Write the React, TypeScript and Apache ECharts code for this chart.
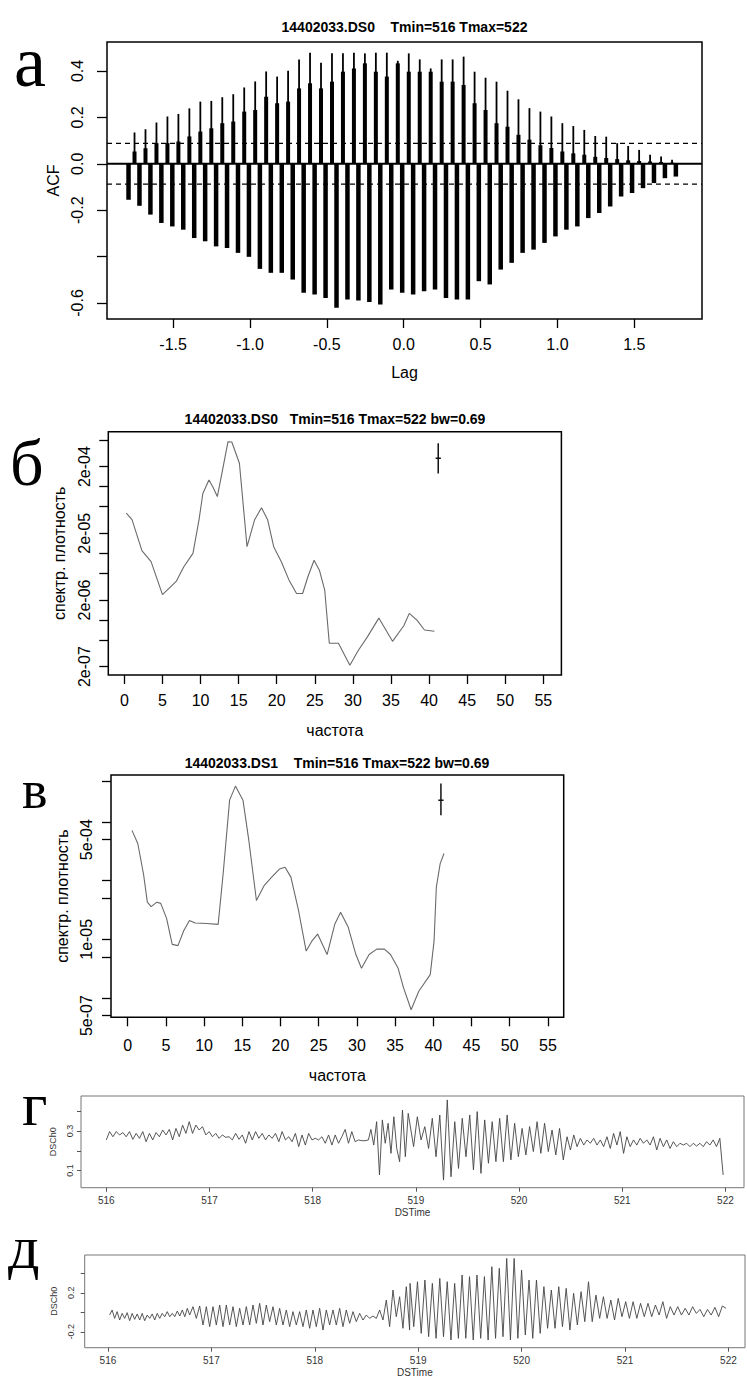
import React, { useEffect, useRef } from "react";
import * as echarts from "echarts";

// ---------- Panel а: cross-correlation (ACF) ----------
const acfPosLag0 = -1.751;
const acfPosStep = 0.07135;
const acfPosPeak = [0.135, 0.149, 0.178, 0.204, 0.215, 0.239, 0.268, 0.271, 0.287, 0.3, 0.329, 0.355, 0.398, 0.376, 0.401, 0.45, 0.479, 0.436, 0.476, 0.476, 0.479, 0.476, 0.479, 0.479, 0.444, 0.476, 0.45, 0.411, 0.45, 0.45, 0.462, 0.397, 0.371, 0.354, 0.315, 0.278, 0.24, 0.225, 0.204, 0.175, 0.163, 0.146, 0.12, 0.117, 0.089, 0.077, 0.06, 0.039, 0.031, 0.017];
const acfPosShoulder = [0.053, 0.067, 0.089, 0.089, 0.096, 0.118, 0.139, 0.153, 0.175, 0.182, 0.225, 0.232, 0.289, 0.261, 0.268, 0.325, 0.347, 0.325, 0.354, 0.397, 0.411, 0.433, 0.397, 0.376, 0.433, 0.397, 0.397, 0.397, 0.354, 0.354, 0.34, 0.261, 0.232, 0.175, 0.16, 0.125, 0.104, 0.08, 0.068, 0.053, 0.045, 0.039, 0.03, 0.025, 0.02, 0.015, 0.012, 0.01, 0.008, 0.005];
const acfNegLag0 = -1.79;
const acfNegStep = 0.0712;
const acfNeg = [-0.155, -0.181, -0.219, -0.255, -0.27, -0.284, -0.32, -0.334, -0.356, -0.363, -0.384, -0.401, -0.453, -0.47, -0.47, -0.499, -0.556, -0.563, -0.578, -0.621, -0.585, -0.589, -0.596, -0.606, -0.542, -0.556, -0.563, -0.549, -0.542, -0.578, -0.585, -0.585, -0.506, -0.52, -0.456, -0.427, -0.384, -0.37, -0.341, -0.313, -0.284, -0.27, -0.234, -0.212, -0.184, -0.141, -0.126, -0.105, -0.083, -0.062, -0.055];
const acfCI = 0.088;
const acfXTicks = [-1.5, -1.0, -0.5, 0, 0.5, 1.0, 1.5];
const acfYTicks = [-0.6, -0.4, -0.2, 0, 0.2, 0.4];
const acfYLabels = [-0.6, -0.2, 0, 0.2, 0.4];

// ---------- Panel б: spectrum DS0 ----------
const specB_f = [0.25, 1.0, 2.3, 3.5, 5.0, 6.8, 7.8, 9.0, 9.8, 10.3, 11.1, 11.6, 12.2, 12.8, 13.6, 14.1, 15.1, 16.1, 17.1, 18.0, 18.8, 19.6, 20.6, 21.6, 22.6, 23.4, 24.1, 24.9, 25.6, 26.3, 26.9, 28.1, 29.6, 30.7, 31.9, 33.4, 35.2, 36.7, 37.4, 38.4, 39.4, 40.7];
const specB_v = [4.0e-5, 3.2e-5, 1.1e-5, 7.5e-6, 2.4e-6, 3.8e-6, 6.3e-6, 1.0e-5, 3.2e-5, 7.9e-5, 1.26e-4, 1.0e-4, 7.1e-5, 1.58e-4, 4.72e-4, 4.68e-4, 2.24e-4, 1.26e-5, 3.2e-5, 4.84e-5, 3.2e-5, 1.26e-5, 7.5e-6, 4.0e-6, 2.5e-6, 2.5e-6, 4.5e-6, 7.9e-6, 5.6e-6, 2.8e-6, 4.5e-7, 4.5e-7, 2.1e-7, 3.5e-7, 5.6e-7, 1.07e-6, 4.8e-7, 8.3e-7, 1.26e-6, 1.0e-6, 7.1e-7, 6.8e-7];
const specB_ciF = 41.2;
const specB_ciV = [4.47e-4, 2.66e-4, 1.58e-4];
const specB_yTicks = [5e-4, 2e-4, 1e-4, 5e-5, 2e-5, 1e-5, 5e-6, 2e-6, 1e-6, 5e-7, 2e-7];
const specB_yLabels = [2e-4, 2e-5, 2e-6, 2e-7];

// ---------- Panel в: spectrum DS1 ----------
const specC_f = [0.56, 1.32, 2.07, 2.57, 3.07, 3.82, 4.32, 5.08, 5.83, 6.58, 7.33, 8.08, 8.83, 10.34, 11.84, 12.49, 13.34, 14.1, 15.09, 15.85, 16.85, 17.85, 18.85, 19.86, 20.6, 21.36, 22.36, 23.36, 24.1, 24.86, 26.1, 27.1, 27.87, 28.87, 29.87, 30.6, 31.6, 32.6, 33.6, 34.4, 35.4, 36.1, 37.1, 38.1, 39.6, 40.1, 40.4, 40.9, 41.4];
const specC_v = [7.2e-4, 4.3e-4, 1.3e-4, 4.3e-5, 3.6e-5, 4.3e-5, 4.1e-5, 2.3e-5, 8.2e-6, 7.8e-6, 1.4e-5, 2.1e-5, 1.9e-5, 1.86e-5, 1.8e-5, 1.3e-4, 2.36e-3, 4.1e-3, 2.36e-3, 4.9e-4, 4.6e-5, 8.2e-5, 1.15e-4, 1.58e-4, 1.7e-4, 1.15e-4, 3.1e-5, 6.3e-6, 9.3e-6, 1.23e-5, 5.5e-6, 1.8e-5, 2.9e-5, 1.6e-5, 5.5e-6, 3.2e-6, 5.5e-6, 6.8e-6, 6.8e-6, 5.5e-6, 3.2e-6, 1.5e-6, 6.3e-7, 1.3e-6, 2.5e-6, 9.3e-6, 7.8e-5, 1.95e-4, 2.9e-4];
const specC_ciF = 41.0;
const specC_ciV = [4.56e-3, 2.36e-3, 1.31e-3];
const specC_yTicks = [5e-3, 1e-3, 5e-4, 1e-4, 5e-5, 1e-5, 5e-6, 1e-6, 5e-7];
const specC_yLabels = [5e-4, 1e-5, 5e-7];
const specBandwidth = 0.69;
const freqTicks = [0, 5, 10, 15, 20, 25, 30, 35, 40, 45, 50, 55];

// ---------- Panel г: DSCh0 time series (segments sampled evenly between times) ----------
const gSegTimes = [[516.0, 518.54], [518.564, 518.926], [518.978, 520.465], [520.498, 521.978]];
const gValuesA = [0.255, 0.297, 0.271, 0.297, 0.28, 0.292, 0.271, 0.297, 0.258, 0.288, 0.263, 0.297, 0.246, 0.288, 0.255, 0.292, 0.271, 0.305, 0.28, 0.308, 0.255, 0.313, 0.271, 0.33, 0.288, 0.347, 0.288, 0.33, 0.305, 0.322, 0.28, 0.297, 0.271, 0.288, 0.263, 0.28, 0.268, 0.271, 0.255, 0.288, 0.258, 0.28, 0.238, 0.297, 0.255, 0.297, 0.263, 0.288, 0.255, 0.28, 0.263, 0.288, 0.246, 0.297, 0.255, 0.271, 0.246, 0.288, 0.221, 0.28, 0.229, 0.288, 0.255, 0.263, 0.255, 0.271, 0.238, 0.28, 0.229, 0.28, 0.238, 0.271, 0.308, 0.238, 0.297, 0.246, 0.255, 0.251, 0.251, 0.255];
const gValuesB = [0.308, 0.229, 0.347, 0.078, 0.356, 0.238, 0.339, 0.187, 0.372, 0.212, 0.145, 0.406, 0.17, 0.389];
const gValuesC = [0.221, 0.372, 0.255, 0.322, 0.212, 0.364, 0.17, 0.381, 0.052, 0.457, 0.069, 0.347, 0.111, 0.364, 0.17, 0.381, 0.103, 0.398, 0.086, 0.356, 0.137, 0.347, 0.145, 0.364, 0.145, 0.381, 0.154, 0.339, 0.17, 0.313, 0.179, 0.322, 0.196, 0.347, 0.187, 0.339, 0.196, 0.305, 0.179, 0.313, 0.154, 0.271];
const gValuesD = [0.204, 0.28, 0.221, 0.263, 0.229, 0.255, 0.238, 0.263, 0.229, 0.255, 0.221, 0.271, 0.212, 0.288, 0.229, 0.297, 0.187, 0.271, 0.221, 0.255, 0.229, 0.263, 0.238, 0.255, 0.229, 0.271, 0.204, 0.263, 0.221, 0.255, 0.212, 0.246, 0.221, 0.238, 0.229, 0.238, 0.221, 0.238, 0.224, 0.238, 0.221, 0.246, 0.229, 0.255, 0.221, 0.263, 0.078];
const gYTicks = [0.1, 0.2, 0.3, 0.4];
const gYLabels = [0.1, 0.3];

// ---------- Panel д: DSCh0 time series ----------
const dSegTimes = [[516.016, 516.767], [516.79, 518.917], [518.921, 521.977]];
const dValuesA = [-0.028, 0.024, -0.062, 0.007, -0.079, -0.011, -0.062, -0.004, -0.086, -0.011, -0.072, -0.017, -0.079, -0.011, -0.086, -0.028, -0.062, -0.017, -0.079, -0.011, -0.062, -0.011, -0.045, 0.007, -0.045, -0.011, -0.045, 0.013, -0.038, 0.024, -0.045, 0.041];
const dValuesB = [-0.028, 0.058, -0.062, 0.065, -0.13, 0.058, -0.147, 0.058, -0.13, 0.075, -0.147, 0.075, -0.13, 0.058, -0.147, 0.041, -0.13, 0.058, -0.13, 0.075, -0.113, 0.092, -0.13, 0.075, -0.096, 0.058, -0.13, 0.041, -0.13, 0.024, -0.147, 0.007, -0.13, 0.007, -0.147, 0.024, -0.164, 0.024, -0.147, 0.041, -0.182, 0.024, -0.13, 0.024, -0.13, 0.041, -0.147, 0.024, -0.113, 0.007, -0.096, -0.011, -0.079, -0.028, -0.062, -0.038, -0.062, 0.024, -0.079, 0.126, -0.147, 0.229, -0.045, 0.16, -0.164, 0.263, -0.182];
const dValuesC = [0.297, -0.147, 0.314, -0.216, 0.331, -0.25, 0.297, -0.267, 0.348, -0.25, 0.314, -0.284, 0.297, -0.267, 0.383, -0.267, 0.366, -0.284, 0.383, -0.267, 0.366, -0.284, 0.468, -0.267, 0.451, -0.25, 0.553, -0.284, 0.553, -0.267, 0.434, -0.233, 0.331, -0.267, 0.331, -0.216, 0.263, -0.164, 0.229, -0.164, 0.263, -0.147, 0.246, -0.182, 0.195, -0.13, 0.212, -0.096, 0.314, -0.096, 0.177, -0.062, 0.16, -0.062, 0.126, -0.079, 0.143, -0.045, 0.109, -0.062, 0.109, -0.062, 0.092, -0.045, 0.092, -0.045, 0.075, -0.028, 0.109, -0.062, 0.058, -0.028, 0.058, -0.028, 0.041, -0.028, 0.058, -0.011, 0.03, -0.045, 0.03, -0.028, 0.051, -0.045, 0.065, 0.041];
const dYTicks = [-0.2, 0, 0.2, 0.4];
const dYLabels = [-0.2, 0.2];
const timeTicks = [516, 517, 518, 519, 520, 521, 522];

// ---------- helpers ----------
const SANS = '"Liberation Sans", Arial, Helvetica, sans-serif';
const SERIF = '"Liberation Serif", "Times New Roman", serif';
const lg = (v: number) => Math.log10(v);
const fmtE = (lv: number) => {
  const x = Math.pow(10, lv);
  const e = Math.floor(Math.log10(x) + 1e-6);
  const m = Math.round(x / Math.pow(10, e));
  return `${m}e${e < 0 ? "-" : "+"}${String(Math.abs(e)).padStart(2, "0")}`;
};
const segs = (times: number[][], vals: number[][]) => {
  const out: number[][] = [];
  vals.forEach((arr, k) => {
    const [t0, t1] = times[k];
    const n = arr.length;
    arr.forEach((v, i) => out.push([t0 + ((t1 - t0) * i) / (n - 1), v]));
  });
  return out;
};

const stick = (width: number) => (params: any, api: any) => {
  const p0 = api.coord([api.value(0), 0]);
  const p1 = api.coord([api.value(0), api.value(1)]);
  return {
    type: "line",
    shape: { x1: p0[0], y1: p0[1], x2: p1[0], y2: p1[1] },
    style: { stroke: "#000", lineWidth: width },
  };
};

function buildOption() {
  const bigLabel = { fontSize: 16, color: "#000", fontFamily: SANS };
  const bigName = { fontSize: 16, color: "#000", fontFamily: SANS };
  const smallLabel = { fontSize: 10, color: "#333", fontFamily: SANS };
  const tickBlack = { color: "#000", width: 1.3 };
  const tickGray = { color: "#555", width: 1 };
  const noLine = { show: false, onZero: false };

  const acfPosPeakData = acfPosPeak.map((v, i) => [acfPosLag0 + i * acfPosStep, v]);
  const acfPosShoulderData = acfPosShoulder.map((v, i) => [acfPosLag0 + i * acfPosStep, v]);
  const acfNegData = acfNeg.map((v, i) => [acfNegLag0 + i * acfNegStep, v]);

  const xA = { min: -1.93, max: 1.94 };
  const xB = { min: -2.113, max: 57.37 };
  const xC = { min: -2.186, max: 57.07 };
  const xG = { min: 515.755, max: 522.18 };
  const xD = { min: 515.775, max: 522.16 };

  const freqAxis = (grid: number, r: { min: number; max: number }, margin: number, gap: number) => ({
    type: "value",
    gridIndex: grid,
    position: "bottom",
    min: r.min,
    max: r.max,
    axisLine: noLine,
    splitLine: { show: false },
    axisTick: { show: true, customValues: freqTicks, length: 9, lineStyle: tickBlack },
    axisLabel: { customValues: freqTicks, margin, ...bigLabel, formatter: (v: number) => String(Math.round(v)) },
    name: "частота",
    nameLocation: "middle",
    nameGap: gap,
    nameTextStyle: bigName,
  });

  const logAxis = (grid: number, lo: number, hi: number, ticks: number[], labels: number[], margin: number, gap: number) => ({
    type: "value",
    gridIndex: grid,
    position: "left",
    min: lg(lo),
    max: lg(hi),
    axisLine: noLine,
    splitLine: { show: false },
    axisTick: { show: true, customValues: ticks.map(lg), length: 9, lineStyle: tickBlack },
    axisLabel: { customValues: labels.map(lg), rotate: 90, margin, ...bigLabel, formatter: (v: number) => fmtE(v) },
    name: "спектр. плотность",
    nameLocation: "middle",
    nameGap: gap,
    nameRotate: 90,
    nameTextStyle: bigName,
  });

  const timeAxis = (grid: number, r: { min: number; max: number }) => ({
    type: "value",
    gridIndex: grid,
    position: "bottom",
    min: r.min,
    max: r.max,
    axisLine: noLine,
    splitLine: { show: false },
    axisTick: { show: true, customValues: timeTicks, length: 4, lineStyle: tickGray },
    axisLabel: { customValues: timeTicks, margin: 8, ...smallLabel, formatter: (v: number) => String(Math.round(v)) },
    name: "DSTime",
    nameLocation: "middle",
    nameGap: 20,
    nameTextStyle: smallLabel,
  });

  const tsYAxis = (grid: number, min: number, max: number, ticks: number[], labels: number[], margin: number, gap: number) => ({
    type: "value",
    gridIndex: grid,
    position: "left",
    min,
    max,
    axisLine: noLine,
    splitLine: { show: false },
    axisTick: { show: true, customValues: ticks, length: 4, lineStyle: tickGray },
    axisLabel: { customValues: labels, rotate: 90, margin, ...smallLabel, fontSize: 9, formatter: (v: number) => v.toFixed(1) },
    name: "DSCh0",
    nameLocation: "middle",
    nameGap: gap,
    nameRotate: 90,
    nameTextStyle: { ...smallLabel, fontSize: 9 },
  });

  const lineSeries = (xi: number, data: number[][], color: string, width: number, type: any = "solid") => ({
    type: "line",
    xAxisIndex: xi,
    yAxisIndex: xi,
    data,
    showSymbol: false,
    symbol: "none",
    silent: true,
    lineStyle: { color, width, type },
    z: 3,
  });

  const hw = specBandwidth / 2;

  return {
    animation: false,
    backgroundColor: "#fff",
    grid: [
      { left: 107, top: 42, width: 595, height: 277, show: true, borderColor: "#000", borderWidth: 1.5 },
      { left: 108.3, top: 431.7, width: 453.1, height: 243.3, show: true, borderColor: "#000", borderWidth: 1.5 },
      { left: 111, top: 775, width: 452.7, height: 242.3, show: true, borderColor: "#000", borderWidth: 1.5 },
      { left: 81, top: 1096, width: 663, height: 91.7, show: true, borderColor: "#777", borderWidth: 1 },
      { left: 84.7, top: 1255, width: 660.3, height: 92.7, show: true, borderColor: "#777", borderWidth: 1 },
    ],
    xAxis: [
      {
        type: "value",
        gridIndex: 0,
        position: "bottom",
        ...xA,
        axisLine: noLine,
        splitLine: { show: false },
        axisTick: { show: true, customValues: acfXTicks, length: 9, lineStyle: tickBlack },
        axisLabel: { customValues: acfXTicks, margin: 17, ...bigLabel, formatter: (v: number) => v.toFixed(1) },
        name: "Lag",
        nameLocation: "middle",
        nameGap: 45,
        nameTextStyle: bigName,
      },
      freqAxis(1, xB, 17, 47),
      freqAxis(2, xC, 20, 50),
      timeAxis(3, xG),
      timeAxis(4, xD),
    ],
    yAxis: [
      {
        type: "value",
        gridIndex: 0,
        position: "left",
        min: -0.669,
        max: 0.525,
        axisLine: noLine,
        splitLine: { show: false },
        axisTick: { show: true, customValues: acfYTicks, length: 10, lineStyle: tickBlack },
        axisLabel: { customValues: acfYLabels, rotate: 90, margin: 22, ...bigLabel, formatter: (v: number) => v.toFixed(1) },
        name: "ACF",
        nameLocation: "middle",
        nameGap: 44,
        nameRotate: 90,
        nameTextStyle: bigName,
      },
      logAxis(1, 1.5e-7, 6.67e-4, specB_yTicks, specB_yLabels, 16, 41),
      logAxis(2, Math.pow(10, -6.33), Math.pow(10, -2.198), specC_yTicks, specC_yLabels, 17, 41),
      tsYAxis(3, 0.0136, 0.4768, gYTicks, gYLabels, 7, 20),
      tsYAxis(4, -0.363, 0.588, dYTicks, dYLabels, 9, 23),
    ],
    series: [
      { type: "custom", xAxisIndex: 0, yAxisIndex: 0, data: acfNegData, renderItem: stick(4.5), silent: true },
      { type: "custom", xAxisIndex: 0, yAxisIndex: 0, data: acfPosShoulderData, renderItem: stick(4), silent: true },
      { type: "custom", xAxisIndex: 0, yAxisIndex: 0, data: acfPosPeakData, renderItem: stick(1.8), silent: true },
      lineSeries(0, [[xA.min, 0], [xA.max, 0]], "#000", 2),
      lineSeries(0, [[xA.min, acfCI], [xA.max, acfCI]], "#000", 1.3, [5, 4]),
      lineSeries(0, [[xA.min, -acfCI], [xA.max, -acfCI]], "#000", 1.3, [5, 4]),

      lineSeries(1, specB_f.map((f, i) => [f, lg(specB_v[i])]), "#6a6a6a", 1.1),
      lineSeries(1, [[specB_ciF, lg(specB_ciV[0])], [specB_ciF, lg(specB_ciV[2])]], "#111", 1.5),
      lineSeries(1, [[specB_ciF - hw, lg(specB_ciV[1])], [specB_ciF + hw, lg(specB_ciV[1])]], "#111", 1.5),

      lineSeries(2, specC_f.map((f, i) => [f, lg(specC_v[i])]), "#6a6a6a", 1.1),
      lineSeries(2, [[specC_ciF, lg(specC_ciV[0])], [specC_ciF, lg(specC_ciV[2])]], "#111", 1.5),
      lineSeries(2, [[specC_ciF - hw, lg(specC_ciV[1])], [specC_ciF + hw, lg(specC_ciV[1])]], "#111", 1.5),

      lineSeries(3, segs(gSegTimes, [gValuesA, gValuesB, gValuesC, gValuesD]), "#444", 0.9),
      lineSeries(4, segs(dSegTimes, [dValuesA, dValuesB, dValuesC]), "#444", 0.9),
    ],
    graphic: [
      { type: "text", x: 14, y: 62, style: { text: "а", font: `72px ${SERIF}`, fill: "#000", textVerticalAlign: "middle", verticalAlign: "middle" } },
      { type: "text", x: 10, y: 462, style: { text: "б", font: `66px ${SERIF}`, fill: "#000", textVerticalAlign: "middle", verticalAlign: "middle" } },
      { type: "text", x: 22, y: 790, style: { text: "в", font: `54px ${SERIF}`, fill: "#000", textVerticalAlign: "middle", verticalAlign: "middle" } },
      { type: "text", x: 22, y: 1104, style: { text: "г", font: `62px ${SERIF}`, fill: "#000", textVerticalAlign: "middle", verticalAlign: "middle" } },
      { type: "text", x: 8, y: 1247, style: { text: "д", font: `62px ${SERIF}`, fill: "#000", textVerticalAlign: "middle", verticalAlign: "middle" } },
      { type: "text", x: 404.5, y: 27, style: { text: "14402033.DS0\u00a0\u00a0\u00a0\u00a0Tmin=516 Tmax=522", font: `bold 14px ${SANS}`, fill: "#000", textAlign: "center", align: "center", textVerticalAlign: "middle", verticalAlign: "middle" } },
      { type: "text", x: 335, y: 419, style: { text: "14402033.DS0\u00a0\u00a0\u00a0Tmin=516 Tmax=522 bw=0.69", font: `bold 14px ${SANS}`, fill: "#000", textAlign: "center", align: "center", textVerticalAlign: "middle", verticalAlign: "middle" } },
      { type: "text", x: 337, y: 763, style: { text: "14402033.DS1\u00a0\u00a0\u00a0\u00a0Tmin=516 Tmax=522 bw=0.69", font: `bold 14px ${SANS}`, fill: "#000", textAlign: "center", align: "center", textVerticalAlign: "middle", verticalAlign: "middle" } },
    ],
  };
}

export default function App() {
  const ref = useRef<HTMLDivElement>(null);
  useEffect(() => {
    if (!ref.current) return;
    const chart = echarts.init(ref.current, null, { renderer: "svg" });
    chart.setOption(buildOption() as any);
    return () => chart.dispose();
  }, []);
  return (
    <div
      ref={ref}
      style={{ position: "absolute", left: 0, top: 0, width: 747, height: 1380, background: "#fff" }}
    />
  );
}
